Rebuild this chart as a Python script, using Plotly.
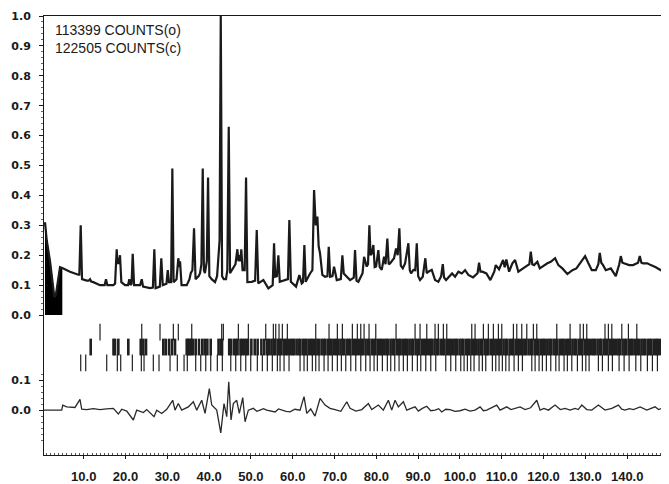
import plotly.graph_objects as go

# ---------------- data ----------------
# observed/calculated profile vertices (2-theta, normalised intensity)
two_theta_obs = [0.74, 1.15, 1.94, 2.58, 2.97, 3.37, 3.92, 4.33, 4.88, 6.72, 8.71,
                 8.95, 9.28, 9.6, 10.72, 11.2, 11.51, 11.8, 12.3, 13.9, 15.0, 15.33, 15.65, 17.08, 17.5,
                 17.89, 18.1, 18.28, 18.45, 18.68, 19.0, 19.88, 20.6, 20.91, 21.2, 21.45, 21.72, 22.05,
                 23.5, 23.88, 24.2, 25.86, 26.55, 26.89, 27.2, 28.2, 28.56, 28.9, 29.8, 30.10, 30.4,
                 30.9, 31.20, 31.5, 32.2, 32.63, 32.85, 33.04, 33.4, 34.64, 35.3, 35.60, 36.0, 36.39,
                 36.75, 37.5, 37.82, 38.15, 38.47, 38.75, 39.0, 39.45, 39.74, 40.05, 40.6, 41.41, 41.9,
                 42.30, 42.5, 42.78, 43.1, 43.5, 44.04, 44.35, 44.69, 45.0, 45.5, 45.79, 46.3, 46.75,
                 47.0, 47.22, 47.45, 47.70, 48.0, 48.5, 48.83, 49.15, 50.19, 51.0, 51.39, 51.75, 52.97,
                 54.16, 55.2, 55.53, 55.8, 56.2, 56.56, 56.9, 58.16, 58.85, 59.19, 59.55, 60.79, 61.58,
                 62.15, 62.45, 62.78, 63.1, 64.14, 64.7, 65.10, 65.5, 65.89, 66.2, 66.53, 67.08, 67.73,
                 68.3, 68.61, 68.95, 69.5, 69.88, 70.53, 71.5, 71.87, 72.2, 73.71, 74.6, 74.90, 75.25,
                 75.69, 76.7, 77.06, 77.70, 78.0, 78.33, 78.6, 78.9, 79.28, 79.6, 79.93, 80.48, 80.8,
                 81.29, 81.84, 82.2, 82.63, 82.95, 83.28, 84.23, 84.71, 85.1, 85.50, 85.85, 86.32,
                 86.87, 87.66, 88.0, 88.30, 88.85, 89.3, 89.67, 90.0, 90.45, 91.10, 91.72, 92.05, 92.44,
                 93.25, 94.04, 94.83, 95.5, 95.89, 96.2, 96.67, 97.46, 98.11, 98.83, 99.62, 100.43,
                 101.22, 102.01, 103.13, 104.2, 104.57, 104.9, 105.36, 106.32, 107.27, 108.2, 108.56,
                 109.35, 110.31, 110.7, 111.10, 111.75, 112.54, 113.18, 113.97, 115.10, 116.12, 116.6,
                 116.94, 117.3, 117.73, 118.52, 119.09, 120.12, 120.91, 121.72, 122.75, 123.54, 124.50,
                 125.69, 126.89, 127.85, 129.14, 129.93, 130.72, 131.53, 132.49, 133.1, 133.44, 133.8,
                 134.23, 134.88, 136.08, 137.27, 138.1, 138.47, 138.85, 139.26, 140.46, 141.41, 142.6,
                 143.01, 143.4, 143.80, 144.83, 145.65, 146.84, 148.04, 149.23, 150.0]
intensity_obs = [0.31, 0.25, 0.18, 0.10, 0.06, 0.07, 0.13, 0.16, 0.157, 0.145, 0.135,
                 0.135, 0.30, 0.12, 0.115, 0.115, 0.12, 0.112, 0.11, 0.10, 0.10, 0.12, 0.10, 0.10, 0.105,
                 0.22, 0.17, 0.19, 0.17, 0.20, 0.11, 0.10, 0.10, 0.12, 0.10, 0.105, 0.205, 0.10,
                 0.10, 0.12, 0.095, 0.09, 0.092, 0.22, 0.09, 0.095, 0.19, 0.10, 0.105, 0.15, 0.11,
                 0.11, 0.49, 0.11, 0.12, 0.19, 0.16, 0.18, 0.10, 0.10, 0.12, 0.14, 0.15, 0.29,
                 0.12, 0.13, 0.14, 0.17, 0.49, 0.15, 0.14, 0.18, 0.46, 0.13, 0.12, 0.11, 0.13,
                 0.20, 0.25, 1.00, 0.13, 0.12, 0.12, 0.15, 0.63, 0.14, 0.15, 0.16, 0.17, 0.22,
                 0.18, 0.20, 0.18, 0.22, 0.15, 0.15, 0.46, 0.11, 0.111, 0.115, 0.284, 0.106, 0.117,
                 0.089, 0.10, 0.24, 0.128, 0.13, 0.20, 0.111, 0.117, 0.12, 0.318, 0.111, 0.095, 0.134,
                 0.106, 0.11, 0.234, 0.111, 0.139, 0.15, 0.418, 0.30, 0.329, 0.23, 0.206, 0.134, 0.128,
                 0.13, 0.228, 0.128, 0.13, 0.162, 0.117, 0.12, 0.20, 0.139, 0.117, 0.125, 0.217, 0.115,
                 0.111, 0.14, 0.195, 0.162, 0.17, 0.30, 0.20, 0.206, 0.234, 0.16, 0.162, 0.217, 0.16,
                 0.151, 0.195, 0.17, 0.256, 0.17, 0.173, 0.19, 0.223, 0.20, 0.29, 0.165, 0.156,
                 0.173, 0.24, 0.15, 0.139, 0.151, 0.15, 0.24, 0.13, 0.117, 0.128, 0.19, 0.14, 0.145,
                 0.151, 0.117, 0.111, 0.13, 0.17, 0.125, 0.117, 0.128, 0.139, 0.128, 0.145, 0.139,
                 0.15, 0.134, 0.126, 0.14, 0.175, 0.145, 0.145, 0.139, 0.117, 0.145, 0.167,
                 0.153, 0.184, 0.16, 0.186, 0.145, 0.173, 0.184, 0.145, 0.156, 0.167, 0.17,
                 0.212, 0.17, 0.167, 0.178, 0.156, 0.167, 0.173, 0.178, 0.19, 0.167, 0.156,
                 0.137, 0.15, 0.156, 0.184, 0.197, 0.173, 0.15, 0.15, 0.17, 0.208, 0.175,
                 0.167, 0.15, 0.156, 0.13, 0.17, 0.197, 0.175, 0.173, 0.167, 0.167, 0.175,
                 0.197, 0.175, 0.173, 0.173, 0.167, 0.16, 0.15, 0.156, 0.162]

excluded_max = 4.88   # excluded (black) region at low angle

two_theta_diff = [0.5, 4.74, 4.98, 5.93, 7.92, 9.11, 9.52, 10.72, 12.3, 13.90, 15.5, 17.08, 18.28, 19.09, 20.29,
                  21.87, 22.68, 24.26, 25.07, 26.82, 27.46, 28.66, 29.86, 31.29, 31.84, 32.63, 33.44,
                  35.02, 36.22, 37.03, 38.23, 39.02, 40.05, 40.62, 41.82, 42.78, 43.56, 44.21, 44.69,
                  45.24, 45.79, 46.60, 47.22, 48.04, 48.59, 49.38, 50.57, 51.4, 52.18, 53.0, 53.78, 54.8,
                  55.77, 56.6, 57.37, 58.4, 59.35, 60.5, 61.75, 62.70, 63.35, 64.3, 65.33, 66.53, 67.73,
                  68.92, 70.12, 71.5, 72.92, 73.71, 75.1, 76.51, 78.09, 78.90, 80.48, 81.67, 82.87,
                  83.68, 84.47, 85.26, 86.46, 87.27, 88.3, 89.26, 90.05, 91.0, 92.06, 93.0, 94.04, 94.9,
                  95.65, 96.6, 97.63, 98.8, 100.02, 101.22, 102.4, 103.61, 104.81, 105.6, 106.41, 107.6,
                  108.80, 109.59, 110.4, 111.20, 112.2, 113.18, 114.38, 115.57, 116.9, 118.37,
                  119.16, 120.1, 121.15, 122.75, 124.0, 125.14, 126.34, 127.54, 128.3, 129.14,
                  130.33, 131.53, 132.3, 133.11, 134.69, 135.5, 136.32, 137.89, 138.7, 139.50,
                  140.5, 141.48, 142.3, 143.09, 144.69, 145.7, 146.67, 147.5, 148.28, 149.86]
intensity_diff = [0.0, 0.0, 0.017, 0.011, 0.009, 0.036, 0.003, 0.002, 0.005, 0.002, 0.004, 0.006, -0.013, 0.003, -0.003,
                  -0.033, 0.0, -0.008, 0.002, -0.022, 0.0, -0.011, 0.003, 0.033, 0.0, 0.022, 0.0,
                  0.011, 0.028, 0.0, 0.033, -0.011, 0.072, 0.017, 0.0, -0.076, 0.022, -0.022, 0.095,
                  -0.033, 0.022, 0.033, -0.011, 0.042, -0.039, 0.0, 0.006, -0.004, 0.0, 0.005, 0.0, -0.003,
                  -0.006, 0.004, 0.0, -0.004, -0.006, 0.003, 0.0, 0.045, -0.011, 0.004, -0.020, 0.039, 0.017,
                  0.006, 0.002, -0.004, 0.028, 0.006, -0.003, 0.002, 0.022, 0.002, 0.017, 0.0, 0.033,
                  0.0, 0.033, 0.011, 0.028, 0.0, 0.006, 0.011, -0.003, 0.006, 0.013, -0.002, 0.0, 0.005,
                  -0.006, 0.003, 0.002, -0.004, -0.002, 0.003, -0.003, 0.0, 0.011, -0.002, 0.0, 0.008,
                  0.017, 0.0, 0.006, 0.011, 0.002, 0.006, 0.011, 0.002, 0.008, 0.033,
                  0.0, 0.006, 0.0, 0.017, 0.002, 0.006, 0.0, 0.006, 0.002, 0.017,
                  0.002, 0.0, 0.008, 0.017, 0.0, 0.004, 0.006, 0.017, 0.003, 0.0,
                  0.005, 0.002, 0.006, 0.011, 0.0, 0.006, 0.011, 0.002, 0.006, 0.002]

reflections_phase1 = [13.90, 23.88, 28.25, 31.44, 32.63, 35.84, 43.01, 43.40, 46.99, 49.38, 53.54, 55.36,
                      55.93, 56.72, 57.51, 58.71, 65.50, 68.68, 70.67, 71.87, 74.26, 75.45, 76.27, 77.06,
                      78.25, 79.86, 84.71, 89.26, 90.45, 92.06, 94.04, 94.83, 96.03, 96.84, 102.82, 103.61,
                      105.60, 106.79, 107.99, 109.19, 110.00, 112.78, 113.59, 114.78, 115.98, 117.56,
                      118.37, 123.16, 126.34, 128.73, 129.52, 130.33, 134.69, 135.50, 136.32, 138.71,
                      140.29, 142.30]
reflections_phase2 = [11.67, 17.13, 17.49, 18.28, 20.67, 23.64, 24.26, 24.90, 29.04, 29.62, 30.41, 31.12,
                      31.84, 34.64, 34.95, 35.31, 35.67, 36.15, 36.79, 37.58, 38.37, 38.96, 39.57, 40.38,
                      42.25, 42.78, 43.09,
                      44.8, 45.2, 45.9, 46.4, 46.8, 47.5, 47.9, 48.4, 48.9, 49.3, 50.1, 50.9, 51.6, 52.5,
                      53.2, 53.9, 54.3, 54.9, 55.4, 55.8, 56.4, 56.9, 57.3, 57.9, 58.4, 58.8, 59.4, 59.9,
                      60.3, 60.9, 61.4, 61.8, 62.4, 62.9, 63.3, 63.9, 64.4, 64.8, 65.4, 65.9, 66.3, 66.9,
                      67.4, 67.8, 68.4, 68.9, 69.3, 69.9, 70.4, 70.8, 71.4, 71.9, 72.3, 72.9, 73.4, 73.8,
                      74.4, 74.9, 75.3, 75.9, 76.4, 76.8, 77.4, 77.9, 78.3, 78.9, 79.4, 79.8, 80.4, 80.9,
                      81.3, 81.9, 82.4, 82.8, 83.4, 83.9, 84.3, 84.9, 85.4, 85.8, 86.4, 86.9, 87.3, 87.9,
                      88.4, 88.8, 89.4, 89.9, 90.3, 90.9, 91.4, 91.8, 92.4, 92.9, 93.3, 93.9, 94.4, 94.8,
                      95.4, 95.9, 96.3, 96.9, 97.4, 97.8, 98.4, 98.9, 99.3, 99.9, 100.4, 100.8, 101.4,
                      101.9, 102.3, 102.9, 103.4, 103.8, 104.4, 104.9, 105.3, 105.9, 106.4, 106.8, 107.4,
                      107.9, 108.3, 108.9, 109.4, 109.8, 110.4, 110.9, 111.3, 111.9, 112.4, 112.8, 113.4,
                      113.9, 114.3, 114.9, 115.4, 115.8, 116.4, 116.9, 117.3, 117.9, 118.4, 118.8, 119.4,
                      119.9, 120.3, 120.9, 121.4, 121.8, 122.4, 122.9, 123.3, 123.9, 124.4, 124.8, 125.4,
                      125.9, 126.3, 126.9, 127.4, 127.8, 128.4, 128.9, 129.3, 129.9, 130.4, 130.8, 131.4,
                      131.9, 132.3, 132.9, 133.4, 133.8, 134.4, 134.9, 135.3, 135.9, 136.4, 136.8, 137.4,
                      137.9, 138.3, 138.9, 139.4, 139.8, 140.4, 140.9, 141.3, 141.9, 142.4, 142.8, 143.4,
                      143.9, 144.3, 144.9, 145.4, 145.8, 146.4, 146.9, 147.3, 147.9, 148.4, 148.8, 149.4,
                      149.9]
reflections_phase3 = [9.28, 10.48, 15.50, 18.04, 18.85, 21.63, 23.78, 24.43, 26.65, 28.01, 30.65, 32.39,
                      34.00, 34.78, 36.79, 37.99, 39.19, 40.38, 41.96, 43.16, 45.17, 46.36, 47.56, 48.76,
                      49.95, 51.53, 52.73, 53.92, 55.12, 56.32, 56.96, 57.92, 59.11, 61.75, 62.70, 63.49,
                      64.69, 65.50, 66.29, 67.49, 68.45, 69.47, 70.67, 71.63, 72.68, 73.88, 75.07, 76.27,
                      77.46, 78.49, 79.45, 80.24, 81.44, 82.63, 83.44, 84.40, 85.43, 86.46, 87.42, 88.61,
                      89.81, 90.62, 91.82, 93.01, 94.21, 96.60, 97.80, 98.99, 100.19, 100.98, 101.77,
                      102.58, 103.37, 104.57, 105.36, 106.17, 107.75, 108.56, 109.35, 110.14, 110.96,
                      111.75, 112.94, 113.97, 114.93, 117.18, 117.97, 118.92, 119.71, 120.67, 121.72,
                      122.92, 123.71, 124.90, 125.69, 126.75, 128.09, 129.28, 130.10, 130.89, 133.11,
                      134.07, 135.50, 136.46, 138.06, 139.26, 140.46, 142.06, 143.25, 144.83, 146.03,
                      147.23, 148.83]

counts_labels = ["113399 COUNTS(o)", "122505 COUNTS(c)"]
x_tick_values = [10, 20, 30, 40, 50, 60, 70, 80, 90, 100, 110, 120, 130, 140]
y_tick_values = [0.0, 0.1, 0.2, 0.3, 0.4, 0.5, 0.6, 0.7, 0.8, 0.9, 1.0]
diff_tick_values = [0.0, 0.1]

# ---------------- figure ----------------
FONT = "Liberation Sans, Arial, Helvetica, sans-serif"
YFONT = "DejaVu Sans, Liberation Sans, sans-serif"
INK = "#1a1a1a"

fig = go.Figure()

# excluded low-angle region (filled black)
ex_x = [x for x in two_theta_obs if x <= excluded_max]
ex_y = intensity_obs[:len(ex_x)]
fig.add_trace(go.Scatter(x=ex_x, y=ex_y, mode="lines", fill="tozeroy",
                         fillcolor="black", line=dict(color="black", width=1),
                         hoverinfo="skip", showlegend=False))

# observed / calculated profile
fig.add_trace(go.Scatter(x=two_theta_obs, y=intensity_obs, mode="lines",
                         line=dict(color=INK, width=2.2), showlegend=False))

# reflection markers (three phases)
row_levels = [-0.057, -0.107, -0.160]
for refl, lvl, w in zip([reflections_phase1, reflections_phase2, reflections_phase3],
                        row_levels, [1.2, 2.6, 1.2]):
    fig.add_trace(go.Scatter(x=refl, y=[lvl] * len(refl), mode="markers",
                             marker=dict(symbol="line-ns", size=12,
                                         line=dict(color="#202020", width=w)),
                             showlegend=False, hoverinfo="x"))

# difference curve (own axis sharing the same scale)
fig.add_trace(go.Scatter(x=two_theta_diff, y=intensity_diff, mode="lines",
                         line=dict(color="#2a2a2a", width=1.3), yaxis="y2",
                         showlegend=False))

for i, txt in enumerate(counts_labels):
    fig.add_annotation(x=0.014, xref="paper", y=0.953 - 0.06 * i, yref="y",
                       text=txt, showarrow=False, xanchor="left", yanchor="middle",
                       font=dict(family=FONT, size=14, color=INK))

Y_LO, Y_HI = -0.468, 1.0
DIFF_SHIFT = 0.318

ytick_font = dict(family=YFONT, size=11, color=INK, weight="bold")

# the page body adds an 8px margin, so the figure is sized to the visible window
fig.update_layout(
    width=661, height=476,
    margin=dict(l=36, r=0, t=8, b=29, autoexpand=False),
    paper_bgcolor="white", plot_bgcolor="white",
    font=dict(family=FONT, color=INK),
    xaxis=dict(range=[0.5, 150], showgrid=False, zeroline=False, automargin=False,
               showline=True, linecolor=INK, linewidth=1, mirror=True,
               tickmode="array", tickvals=x_tick_values,
               ticktext=[f"{v:.1f}" for v in x_tick_values],
               ticks="outside", ticklen=3, tickcolor=INK,
               ticklabelstandoff=6,
               tickfont=dict(family=FONT, size=13, color=INK, weight="bold"),
               minor=dict(dtick=1, ticks="inside", ticklen=2, tickcolor="#555")),
    yaxis=dict(range=[Y_LO, Y_HI], showgrid=False, zeroline=False, automargin=False,
               showline=True, linecolor=INK, linewidth=1,
               tickmode="array", tickvals=y_tick_values,
               ticktext=[f"{v:.1f}" for v in y_tick_values],
               ticks="outside", ticklen=4, tickcolor=INK,
               ticklabelstandoff=6,
               tickfont=ytick_font,
               minor=dict(tickmode="array",
                          tickvals=[round(0.02 * k, 2) for k in range(51)],
                          ticks="outside", ticklen=2, tickcolor="#666")),
    yaxis2=dict(range=[Y_LO + DIFF_SHIFT, Y_HI + DIFF_SHIFT], overlaying="y", side="left",
                showgrid=False, zeroline=False, showline=False, automargin=False,
                tickmode="array", tickvals=diff_tick_values,
                ticktext=[f"{v:.1f}" for v in diff_tick_values],
                ticks="outside", ticklen=4, tickcolor=INK,
                ticklabelstandoff=6,
                tickfont=ytick_font,
                minor=dict(tickmode="array",
                           tickvals=[round(-0.1 + 0.02 * k, 2) for k in range(12)],
                           ticks="outside", ticklen=2, tickcolor="#666")),
)

fig.write_html("out.html")
